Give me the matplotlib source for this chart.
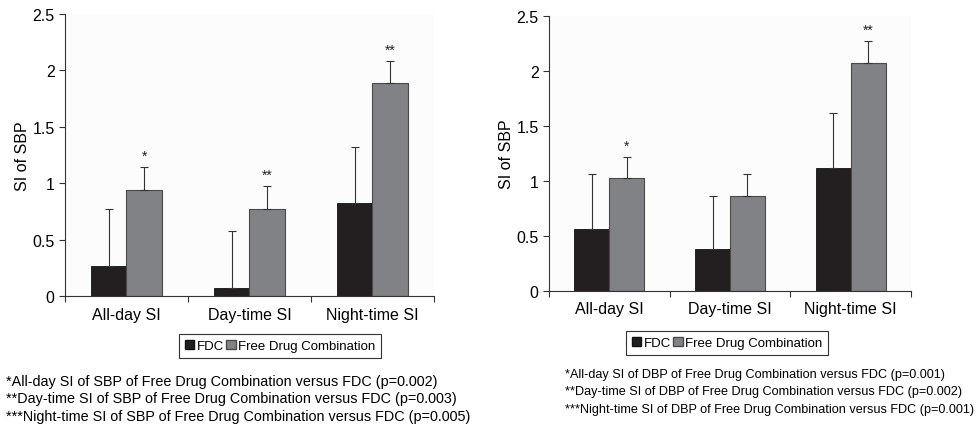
import numpy as np
import matplotlib
matplotlib.use("Agg")
import matplotlib.pyplot as plt
from matplotlib.patches import Patch

plt.rcParams['font.family'] = ['Liberation Sans', 'DejaVu Sans']

categories = ['All-day SI', 'Day-time SI', 'Night-time SI']
series_names = ['FDC', 'Free Drug Combination']

# left panel (SBP)
sbp_fdc = [0.27, 0.075, 0.825]
sbp_fdc_err = [0.50, 0.50, 0.50]
sbp_free = [0.94, 0.775, 1.89]
sbp_free_err = [0.205, 0.20, 0.19]
sbp_stars = ['*', '**', '**']
sbp_notes = ['*All-day SI of SBP of Free Drug Combination versus FDC (p=0.002)',
             '**Day-time SI of SBP of Free Drug Combination versus FDC (p=0.003)',
             '***Night-time SI of SBP of Free Drug Combination versus FDC (p=0.005)']

# right panel (DBP)
dbp_fdc = [0.565, 0.378, 1.115]
dbp_fdc_err = [0.50, 0.49, 0.50]
dbp_free = [1.025, 0.868, 2.07]
dbp_free_err = [0.19, 0.20, 0.20]
dbp_stars = ['*', '', '**']
dbp_notes = ['*All-day SI of DBP of Free Drug Combination versus FDC (p=0.001)',
             '**Day-time SI of DBP of Free Drug Combination versus FDC (p=0.002)',
             '***Night-time SI of DBP of Free Drug Combination versus FDC (p=0.001)']

W, H = 979, 435
fig = plt.figure(figsize=(W / 100, H / 100), dpi=100)

dark = '#231f20'
grey = '#808285'


def panel(rect, fdc, fdc_err, free, free_err, stars, xpad):
    l, t, r, b = rect
    ax = fig.add_axes([l / W, 1 - b / H, (r - l) / W, (b - t) / H])
    ax.set_facecolor('#fcfcfc')
    x = np.arange(len(categories))
    bw = 0.29
    ekw = dict(elinewidth=0.8, ecolor='#333333', capthick=0.8)
    ax.bar(x - bw / 2, fdc, bw, color=dark, edgecolor='#111111', linewidth=0.6,
           yerr=[np.zeros(3), fdc_err], capsize=3, error_kw=ekw, zorder=2)
    ax.bar(x + bw / 2, free, bw, color=grey, edgecolor='#4a4a4a', linewidth=0.8,
           yerr=[np.zeros(3), free_err], capsize=3, error_kw=ekw, zorder=2)
    for i, s in enumerate(stars):
        if s:
            ax.text(x[i] + bw / 2, free[i] + free_err[i] + 0.04, s,
                    ha='center', va='bottom', fontsize=10, color='#222222')
    ax.set_xlim(-0.5, 2.5)
    ax.set_ylim(0, 2.5)
    ax.set_yticks([0, 0.5, 1, 1.5, 2, 2.5])
    ax.set_yticklabels(['0', '0.5', '1', '1.5', '2', '2.5'])
    ax.set_xticks(x)
    ax.set_xticklabels(categories)
    ax.set_xticks([-0.5, 0.5, 1.5, 2.5], minor=True)
    ax.tick_params(axis='x', which='major', length=0, labelsize=11.5, pad=xpad)
    ax.tick_params(axis='x', which='minor', length=4, width=0.8, color='#333333')
    ax.tick_params(axis='y', length=4, width=0.8, labelsize=11.5, color='#333333')
    for s in ['top', 'right']:
        ax.spines[s].set_visible(False)
    for s in ['left', 'bottom']:
        ax.spines[s].set_color('#333333')
        ax.spines[s].set_linewidth(0.8)
    ax.set_ylabel('SI of SBP', fontsize=11.5, labelpad=2)
    return ax


ax1 = panel((65, 15, 434, 297), sbp_fdc, sbp_fdc_err, sbp_free, sbp_free_err, sbp_stars, 8)
ax2 = panel((549, 17, 911, 292), dbp_fdc, dbp_fdc_err, dbp_free, dbp_free_err, dbp_stars, 7)

handles = [Patch(facecolor=dark, edgecolor='#111111'),
           Patch(facecolor=grey, edgecolor='#4a4a4a')]
for cx, cy in [(280 / W, 1 - 347 / H), (727 / W, 1 - 344 / H)]:
    leg = fig.legend(handles, series_names, loc='center', bbox_to_anchor=(cx, cy),
                     ncol=2, fontsize=9.5, handlelength=0.7, handleheight=0.7,
                     handletextpad=0.2, columnspacing=0.2, fancybox=False,
                     framealpha=1, borderpad=0.45, borderaxespad=0)
    leg.get_frame().set_edgecolor('#333333')
    leg.get_frame().set_linewidth(0.8)

for i, s in enumerate(sbp_notes):
    fig.text(6 / W, 1 - (382 + 17.5 * i) / H, s, fontsize=10.4, va='center', ha='left')
for i, s in enumerate(dbp_notes):
    fig.text(565 / W, 1 - (375 + 17.5 * i) / H, s, fontsize=9.1, va='center', ha='left')

fig.savefig('out.png', dpi=100)
